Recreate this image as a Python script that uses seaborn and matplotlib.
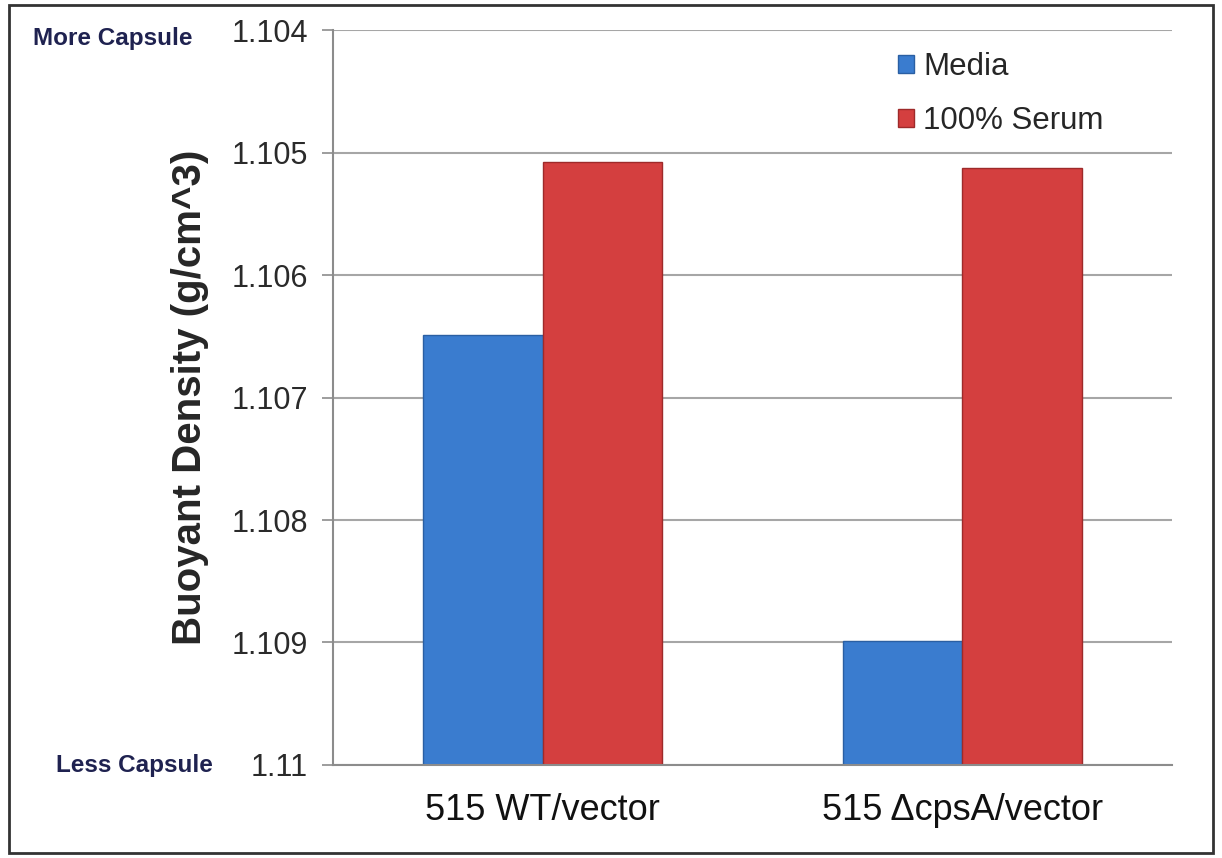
import matplotlib
matplotlib.use("Agg")
import matplotlib.pyplot as plt
import pandas as pd
import seaborn as sns
from matplotlib.patches import Patch, Rectangle

strains = ["515 WT/vector", "515 \u0394cpsA/vector"]
conditions = ["Media", "100% Serum"]
media_density = [1.10649, 1.10899]
serum_density = [1.10508, 1.10513]
baseline = 1.11
yticks = [1.104, 1.105, 1.106, 1.107, 1.108, 1.109, 1.11]

df = pd.DataFrame({
    "strain": strains * 2,
    "condition": [conditions[0]] * 2 + [conditions[1]] * 2,
    "density": media_density + serum_density,
})
df["height"] = df["density"] - baseline

sns.set_style("white")
plt.rcParams["font.family"] = ["Liberation Sans", "DejaVu Sans"]

fig = plt.figure(figsize=(12.22, 8.58), dpi=100)
ax = fig.add_axes([0.2725, 0.1084, 0.959 - 0.2725, 0.965 - 0.1084])

colors = ["#3a7ccf", "#d43f3f"]
edges = ["#2a5fa3", "#9e2a2a"]
palette = dict(zip(conditions, colors))
sns.barplot(
    data=df, x="strain", y="height", hue="condition", palette=palette,
    width=0.57, errorbar=None, bottom=baseline, ax=ax, saturation=1,
    legend=False,
)
for cont, edge in zip(ax.containers, edges):
    for bar in cont:
        bar.set_edgecolor(edge)
        bar.set_linewidth(1.0)

ax.set_ylim(baseline, 1.104)
ax.set_yticks(yticks)
ax.set_yticklabels([f"{t:g}" for t in yticks], fontsize=22, color="#2a2a2a")
ax.yaxis.grid(True, color="#a6a6a6", linewidth=1.5)
ax.set_axisbelow(True)
ax.set_xlim(-0.5, 1.5)
ax.set_xticks([0, 1])
ax.set_xticklabels(strains, fontsize=26, color="#111111")
ax.set_xticks([-0.5, 0.5, 1.5], minor=True)
ax.tick_params(axis="x", which="major", length=0, pad=20)
ax.tick_params(axis="x", which="minor", length=8, color="#8c8c8c", width=1.2)
ax.tick_params(axis="y", length=8, color="#8c8c8c", width=1.2, pad=10, left=True)
for s in ["top", "right"]:
    ax.spines[s].set_visible(False)
for s in ["left", "bottom"]:
    ax.spines[s].set_color("#8c8c8c")
    ax.spines[s].set_linewidth(1.5)

ax.set_xlabel("")
ax.set_ylabel("Buoyant Density (g/cm^3)", fontsize=29, fontweight="bold", labelpad=16)

handles = [Patch(facecolor=c, edgecolor=e, label=l) for c, e, l in zip(colors, edges, conditions)]
ax.legend(
    handles=handles, loc="upper right", bbox_to_anchor=(0.952, 1.008), frameon=False, fontsize=22.5,
    handlelength=0.5, handleheight=0.5, handletextpad=0.3, labelspacing=0.75,
)

fig.text(0.027, 0.955, "More Capsule", fontsize=17.5, fontweight="bold", color="#1f2250", va="center")
fig.text(0.046, 0.108, "Less Capsule", fontsize=17.5, fontweight="bold", color="#1f2250", va="center")

fig.patches.append(Rectangle((0.007, 0.006), 0.986, 0.988, transform=fig.transFigure,
                             fill=False, edgecolor="#333333", linewidth=2))

fig.savefig("out.png", dpi=100)
